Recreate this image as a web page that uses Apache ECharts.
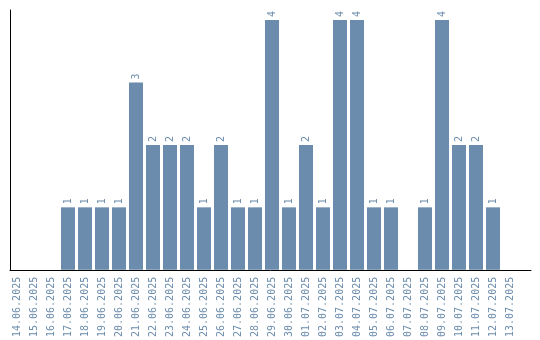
<!DOCTYPE html>
<html><head><meta charset="utf-8">
<script src="https://cdn.jsdelivr.net/npm/echarts@6/dist/echarts.min.js"></script>
<style>html,body{margin:0;padding:0;background:#fff}#c{width:540px;height:340px}</style>
</head><body><div id="c"></div>
<script>
const categories = ['14.06.2025','15.06.2025','16.06.2025','17.06.2025','18.06.2025','19.06.2025','20.06.2025','21.06.2025','22.06.2025','23.06.2025','24.06.2025','25.06.2025','26.06.2025','27.06.2025','28.06.2025','29.06.2025','30.06.2025','01.07.2025','02.07.2025','03.07.2025','04.07.2025','05.07.2025','06.07.2025','07.07.2025','08.07.2025','09.07.2025','10.07.2025','11.07.2025','12.07.2025','13.07.2025'];
const values = [0,0,0,1,1,1,1,3,2,2,2,1,2,1,1,4,1,2,1,4,4,1,1,0,1,4,2,2,1,0];
const color = '#6b8cac';
const chart = echarts.init(document.getElementById('c'));
chart.setOption({
  animation: false,
  grid: [
    {left: 8.5, right: 21.5, top: 10, bottom: 70},
    {left: 10, right: 9, top: 10, bottom: 70}
  ],
  xAxis: [{
    type: 'category', data: categories, gridIndex: 0,
    axisLine: {show: false},
    axisTick: {show: false},
    axisLabel: {interval: 0, rotate: 90, color: color, fontFamily: 'DejaVu Sans Mono', fontSize: 10, margin: 7}
  }, {
    type: 'value', gridIndex: 1, min: 0, max: 1,
    axisLine: {show: true, onZero: false, lineStyle: {color: '#000', width: 1}},
    axisTick: {show: false}, axisLabel: {show: false}, splitLine: {show: false}
  }],
  yAxis: [{
    type: 'value', gridIndex: 0, min: 0, max: 4.16,
    axisLine: {show: false},
    axisTick: {show: false}, axisLabel: {show: false}, splitLine: {show: false}
  }, {
    type: 'value', gridIndex: 1, min: 0, max: 1,
    axisLine: {show: true, onZero: false, lineStyle: {color: '#000', width: 1}},
    axisTick: {show: false}, axisLabel: {show: false}, splitLine: {show: false}
  }],
  series: [{
    type: 'bar', data: values, xAxisIndex: 0, yAxisIndex: 0, barCategoryGap: '17.6%',
    itemStyle: {color: color},
    label: {show: true, position: 'top', rotate: 90, align: 'left', verticalAlign: 'middle', distance: 3,
      color: color, fontFamily: 'DejaVu Sans Mono', fontSize: 10,
      formatter: p => p.value ? String(p.value) : ''}
  }]
});
</script></body></html>
